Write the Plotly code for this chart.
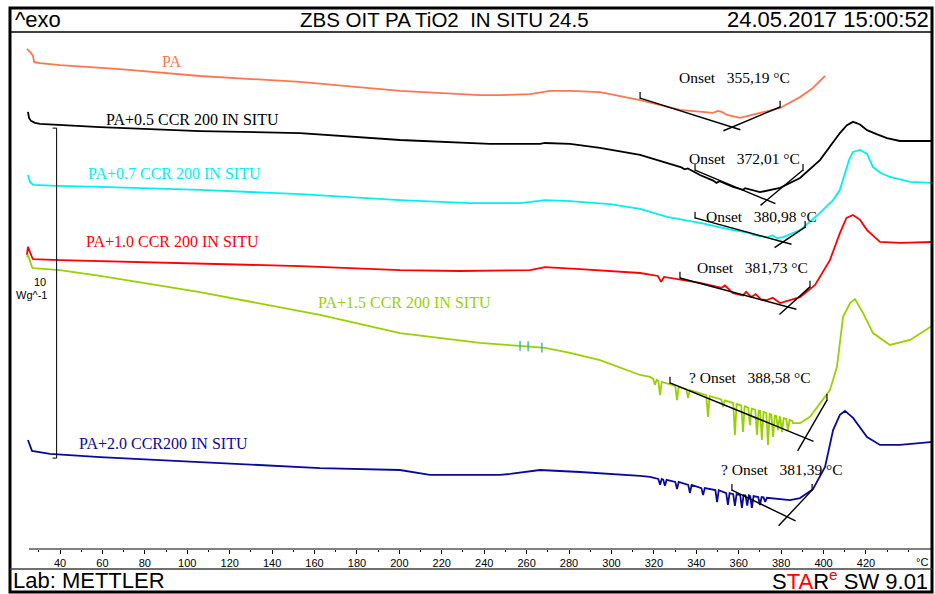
import plotly.graph_objects as go

# ---------------- data (temperature in °C, heat flow in W/g, curves offset) ----------------
pa_T = [24.4, 25.9, 27.3, 27.8, 30.6, 40.0, 68.3, 106.0, 153.2, 181.4, 200.3, 238.0, 247.4, 261.6, 271.0,
        280.5, 294.6, 313.5, 332.3, 347.9, 350.2, 352.0, 354.5, 360.6, 370.0, 379.5, 388.9, 394.5, 400.7]
pa_Y = [15.79, 15.70, 15.58, 15.39, 15.36, 15.30, 15.18, 14.97, 14.79, 14.64, 14.52, 14.39, 14.39, 14.42, 14.52,
        14.52, 14.48, 14.24, 13.94, 13.85, 13.91, 13.88, 13.79, 13.70, 13.85, 14.00, 14.33, 14.58, 14.97]

b_T = [24.9, 25.4, 26.3, 28.2, 30.6, 40.0, 58.9, 106.0, 153.2, 200.3, 242.7, 266.3, 268.7, 280.5, 294.6,
       313.5, 326.2, 333.0, 334.5, 336.0, 341.7, 348.0, 349.5, 351.0, 357.3, 362.0, 363.0, 370.0, 379.5, 388.9,
       398.3, 407.7, 411.0, 413.9, 417.2, 420.5, 425.0, 429.9, 436.0, 451.6]
b_Y = [13.88, 13.70, 13.61, 13.55, 13.52, 13.48, 13.42, 13.30, 13.24, 13.03, 12.91, 12.91, 12.94, 12.91, 12.79,
       12.58, 12.33, 12.20, 12.14, 12.17, 11.97, 11.80, 11.73, 11.78, 11.61, 11.52, 11.57, 11.45, 11.58, 11.88,
       12.42, 13.24, 13.48, 13.58, 13.50, 13.33, 13.21, 13.09, 13.00, 13.00]

c_T = [24.9, 25.9, 27.3, 38.6, 58.9, 106.0, 153.2, 200.3, 233.3, 256.9, 268.7, 280.5, 299.3, 313.5, 326.2,
       341.7, 357.3, 365.0, 367.0, 373.3, 376.0, 378.0, 380.9, 388.9, 398.3, 404.5, 407.7, 410.1, 412.0, 413.9,
       417.2, 420.5, 423.3, 427.0, 431.3, 440.8, 451.6]
c_Y = [11.97, 11.76, 11.67, 11.64, 11.61, 11.52, 11.39, 11.21, 11.12, 11.12, 11.21, 11.18, 11.09, 10.94, 10.70,
       10.52, 10.30, 10.22, 10.15, 10.09, 10.14, 10.05, 10.09, 10.30, 10.82, 11.21, 11.52, 12.03, 12.42, 12.67,
       12.73, 12.61, 12.21, 12.03, 11.91, 11.76, 11.73]

r_T = [24.4, 24.9, 26.8, 27.3, 40.0, 58.9, 106.0, 153.2, 200.3, 228.6, 261.6, 268.7, 285.2, 313.5, 321.9,
       323.4, 324.8, 332.3, 341.7, 352.0, 353.5, 357.3, 362.0, 363.5, 366.0, 368.0, 370.5, 373.3, 376.0, 379.5,
       388.9, 396.0, 403.0, 407.7, 410.8, 413.9, 417.2, 420.5, 426.6, 436.0, 451.6]
r_Y = [9.55, 9.79, 9.48, 9.42, 9.39, 9.36, 9.27, 9.21, 9.09, 9.06, 9.09, 9.18, 9.12, 9.00, 8.91,
       8.73, 8.88, 8.79, 8.70, 8.55, 8.62, 8.39, 8.32, 8.43, 8.27, 8.36, 8.20, 8.18, 8.25, 8.09,
       8.27, 8.64, 9.39, 10.21, 10.67, 10.76, 10.61, 10.30, 9.94, 9.91, 9.94]

g_T = [24.4, 24.9, 26.8, 27.3, 40.0, 58.9, 106.0, 162.6, 200.3, 238.0, 256.9, 268.7, 280.5, 294.6, 313.5,
       318.2, 319.7, 320.5, 321.3, 322.1, 322.9, 323.7, 330.1, 330.9, 331.7, 335.3, 336.1, 336.9, 344.7, 345.5,
       346.3, 351.8, 352.6, 353.4, 357.4, 358.2, 359.0, 361.2, 362.0, 362.8, 364.5, 365.3, 366.1, 367.8, 368.6,
       369.4, 370.1, 370.9, 371.7, 373.0, 373.8, 374.6, 375.4, 376.2, 377.0, 377.7, 378.5, 379.3, 379.6, 380.4,
       381.2, 382.4, 383.2, 384.0, 385.2, 385.6, 388.9, 393.6, 398.3, 403.0, 406.3, 409.2, 412.5, 414.8, 418.6,
       423.3, 431.3, 440.8, 451.6]
g_Y = [9.48, 9.55, 9.18, 9.15, 9.09, 8.91, 8.42, 7.73, 7.18, 6.88, 6.79, 6.73, 6.58, 6.36, 5.91,
       5.85, 5.79, 5.61, 5.76, 5.73, 5.30, 5.70, 5.58, 5.15, 5.55, 5.48, 5.21, 5.45, 5.30, 4.64,
       5.27, 5.17, 4.94, 5.14, 5.06, 4.09, 5.03, 4.99, 4.18, 4.96, 4.92, 4.39, 4.89, 4.86, 4.09,
       4.83, 4.82, 3.94, 4.79, 4.76, 3.79, 4.73, 4.71, 4.03, 4.68, 4.67, 4.24, 4.64, 4.63, 4.18,
       4.60, 4.58, 4.24, 4.55, 4.52, 4.45, 4.45, 4.64, 5.06, 5.45, 6.15, 7.67, 8.09, 8.21, 7.79,
       7.18, 6.82, 6.97, 7.42]
g_mark_T = [256.9, 260.7, 267.2]
g_mark_Y = [6.79, 6.78, 6.74]

n_T = [24.9, 25.9, 26.8, 35.3, 58.9, 106.0, 162.6, 200.3, 214.4, 247.4, 252.2, 266.3, 285.2, 313.5, 318.2,
       322.1, 322.9, 323.7, 324.4, 325.2, 326.0, 330.1, 330.9, 331.7, 336.2, 337.0, 337.8, 342.4, 343.2, 344.0,
       349.0, 349.8, 350.6, 354.1, 354.9, 355.7, 357.4, 358.2, 359.0, 360.7, 361.5, 362.3, 363.2, 364.0, 364.8,
       365.4, 366.2, 367.0, 369.2, 370.0, 370.8, 371.7, 372.5, 373.3, 384.2, 388.9, 395.0, 400.7, 404.5, 407.7,
       410.1, 413.9, 420.5, 426.6, 436.0, 451.6]
n_Y = [3.94, 3.73, 3.61, 3.52, 3.42, 3.27, 3.09, 3.03, 2.88, 2.88, 2.91, 3.03, 2.97, 2.85, 2.82,
       2.76, 2.58, 2.76, 2.74, 2.55, 2.73, 2.67, 2.45, 2.67, 2.58, 2.33, 2.58, 2.48, 2.27, 2.48,
       2.42, 2.06, 2.42, 2.33, 1.97, 2.33, 2.30, 1.94, 2.30, 2.27, 1.88, 2.27, 2.26, 1.95, 2.26,
       2.24, 1.88, 2.24, 2.21, 1.97, 2.21, 2.20, 2.06, 2.19, 2.12, 2.18, 2.45, 3.12, 4.24, 4.70,
       4.82, 4.61, 4.03, 3.79, 3.79, 3.88]

# onset tangents: [left start, past intersection] and [right end, past intersection]
tan_pa = ([313.5, 360.8], [14.30, 13.34], [379.5, 352.8], [14.03, 13.31])
tan_b = ([339.4, 377.3], [12.12, 11.10], [390.3, 370.3], [12.12, 11.05])
tan_c = ([339.4, 384.9], [10.67, 9.87], [391.3, 376.9], [10.39, 9.77])
tan_r = ([332.3, 387.2], [8.85, 7.90], [393.6, 379.2], [8.58, 7.74])
tan_g = ([327.6, 395.3], [5.67, 3.90], [401.6, 387.8], [5.15, 3.61])
tan_n = ([356.8, 386.8], [2.42, 1.49], [394.6, 378.8], [2.42, 1.34])

onset_text = ["Onset\u00a0\u00a0\u00a0355,19 °C", "Onset\u00a0\u00a0\u00a0372,01 °C", "Onset\u00a0\u00a0\u00a0380,98 °C",
              "Onset\u00a0\u00a0\u00a0381,73 °C", "? Onset\u00a0\u00a0\u00a0388,58 °C", "? Onset\u00a0\u00a0\u00a0381,39 °C"]
curve_names = ["PA", "PA+0.5 CCR 200 IN SITU", "PA+0.7 CCR 200 IN SITU", "PA+1.0 CCR 200 IN SITU",
               "PA+1.5 CCR 200 IN SITU", "PA+2.0 CCR200 IN SITU"]

tick_vals = [40, 60, 80, 100, 120, 140, 160, 180, 200, 220, 240, 260, 280, 300, 320, 340, 360, 380, 400, 420]
tick_labels = [str(v) for v in tick_vals]
minor_vals = [30, 50, 70, 90, 110, 130, 150, 170, 190, 210, 230, 250, 270, 290, 310, 330, 350, 370, 390, 410, 430, 440]

scale_T = [36.5, 38.4, 38.4, 36.5]
scale_Y = [13.39, 13.39, 3.39, 3.39]

# ---------------- figure ----------------
W, H = 935, 594
colors = ["#FF7650", "#000000", "#00F0F0", "#FF0000", "#99D100", "#0A0A9A"]
series = [(pa_T, pa_Y), (b_T, b_Y), (c_T, c_Y), (r_T, r_Y), (g_T, g_Y), (n_T, n_Y)]
tangents = [tan_pa, tan_b, tan_c, tan_r, tan_g, tan_n]

fig = go.Figure()
for (t, y), col in zip(series, colors):
    fig.add_trace(go.Scatter(x=t, y=y, mode="lines", line=dict(color=col, width=1.8), hoverinfo="skip"))

for tl in tangents:
    fig.add_trace(go.Scatter(x=tl[0], y=tl[1], mode="lines", line=dict(color="black", width=1.4), hoverinfo="skip"))
    fig.add_trace(go.Scatter(x=tl[2], y=tl[3], mode="lines", line=dict(color="black", width=1.4), hoverinfo="skip"))
    fig.add_trace(go.Scatter(x=[tl[0][0], tl[2][0]], y=[tl[1][0] + 0.08, tl[3][0] + 0.08], mode="markers",
                             marker=dict(symbol="line-ns-open", size=5, color="black", line=dict(width=1.2)),
                             hoverinfo="skip"))

fig.add_trace(go.Scatter(x=g_mark_T, y=g_mark_Y, mode="markers",
                         marker=dict(symbol="line-ns-open", size=7, color="#20B0B0", line=dict(width=1.3)),
                         hoverinfo="skip"))
fig.add_trace(go.Scatter(x=scale_T, y=scale_Y, mode="lines", line=dict(color="black", width=1), hoverinfo="skip"))

T0 = 40 - 60 / 2.121
T1 = 40 + (W - 60) / 2.121
Y0 = -(H - 570) / 33.0
Y1 = 570 / 33.0


def px(x):
    return x / W


def py(y):
    return 1 - y / H


axis_y = py(549)

fig.update_layout(
    width=W, height=H, margin=dict(l=0, r=0, t=0, b=0),
    paper_bgcolor="white", plot_bgcolor="white", showlegend=False,
    xaxis=dict(range=[T0, T1], domain=[0, 1], anchor="free", position=axis_y,
               showline=False, showgrid=False, zeroline=False,
               ticks="outside", ticklen=4, tickwidth=1, tickcolor="black",
               tickmode="array", tickvals=tick_vals, ticktext=tick_labels,
               tickfont=dict(family="Liberation Sans, Arial", size=11, color="black"),
               minor=dict(tickmode="array", tickvals=minor_vals, ticks="outside", ticklen=2,
                          tickcolor="black", tickwidth=1, showgrid=False)),
    yaxis=dict(range=[Y0, Y1], domain=[0, 1], visible=False),
)

shapes = [
    dict(type="rect", xref="paper", yref="paper", x0=px(10), x1=px(932), y0=py(8), y1=py(592),
         line=dict(color="black", width=3)),
    dict(type="line", xref="paper", yref="paper", x0=px(10), x1=px(932), y0=py(32), y1=py(32),
         line=dict(color="black", width=1.5)),
    dict(type="line", xref="paper", yref="paper", x0=px(10), x1=px(932), y0=py(569), y1=py(569),
         line=dict(color="#404040", width=1.5)),
    dict(type="line", xref="x", yref="paper", x0=25.4, x1=451.2, y0=axis_y, y1=axis_y,
         line=dict(color="black", width=1)),
]
fig.update_layout(shapes=shapes)

sans = "Liberation Sans, Arial"
serif = "Liberation Serif, Times New Roman"
ann = []


def txt(x, y, s, size, color="black", family=sans, xanchor="center"):
    ann.append(dict(x=px(x), y=py(y), xref="paper", yref="paper", text=s, showarrow=False,
                    xanchor=xanchor, yanchor="middle", font=dict(family=family, size=size, color=color)))


txt(13, 20, "^exo", 22, xanchor="left")
txt(444, 20, "ZBS OIT PA TiO2\u00a0\u00a0IN SITU 24.5", 20.5)
txt(931, 20, "24.05.2017\u00a015:00:52", 22, xanchor="right")
txt(11, 580, "Lab: METTLER", 22, xanchor="left")
txt(930, 580, "S<span style='color:#FF0000'>TA</span>R<sup><span style='color:#FF0000'>e</span></sup> SW 9.01",
    22, xanchor="right")
txt(922, 562, "°C", 11)
txt(48, 282, "10", 11, xanchor="right")
txt(49, 295, "Wg^-1", 11, xanchor="right")

label_pos = [(171, 62), (192, 119), (174, 173), (172, 241), (404, 302), (163, 443)]
for (x, y), name, col in zip(label_pos, curve_names, colors):
    txt(x, y, name, 16, color=col, family=serif)

onset_pos = [(734, 78), (744, 158), (761, 216), (752, 268), (750, 377), (782, 469)]
for (x, y), s in zip(onset_pos, onset_text):
    txt(x, y, s, 15.5, family=serif)

fig.update_layout(annotations=ann)
fig.write_html("out.html", config={"displayModeBar": False},
               post_script="document.body.style.margin='0';document.body.style.overflow='hidden';")
